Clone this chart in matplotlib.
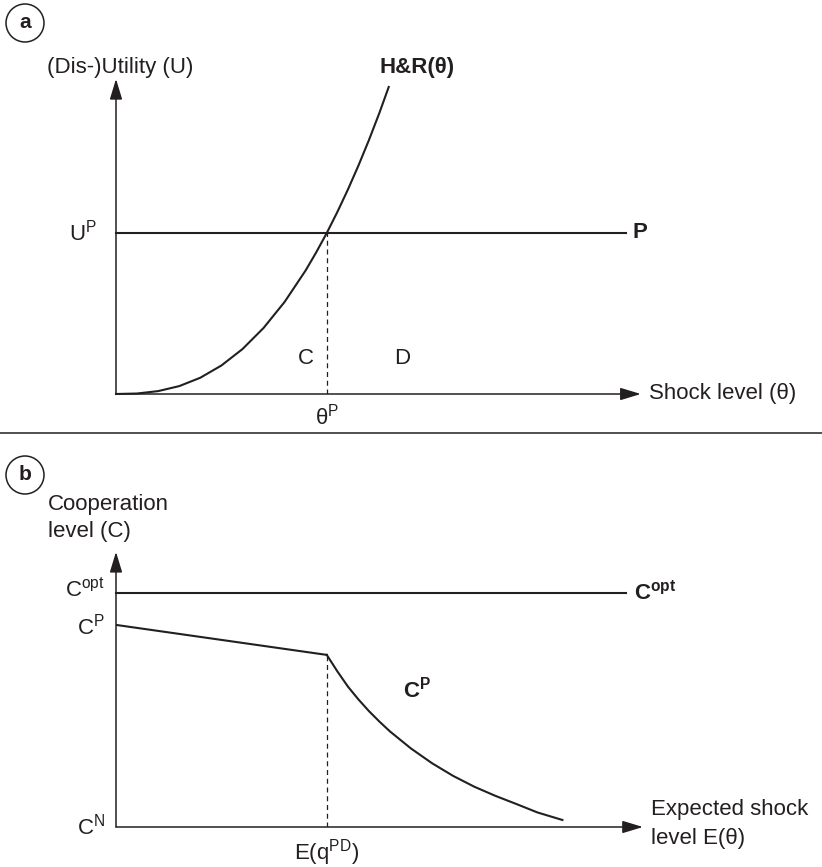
import matplotlib
matplotlib.use("Agg")
import matplotlib.pyplot as plt
from matplotlib.patches import Ellipse
from matplotlib.lines import Line2D

plt.rcParams['font.family'] = ['Liberation Sans', 'DejaVu Sans']
plt.rcParams['mathtext.fontset'] = 'custom'
plt.rcParams['mathtext.rm'] = 'Liberation Sans'
plt.rcParams['mathtext.it'] = 'Liberation Sans'
plt.rcParams['mathtext.bf'] = 'Liberation Sans:bold'

INK = '#231f20'

# panel a: H&R(theta) curve (theta^P = 1, U^P = 1)
theta = [0.0, 0.1, 0.2, 0.3, 0.4, 0.5, 0.6, 0.7, 0.8, 0.9, 0.95, 1.0,
         1.05, 1.1, 1.15, 1.2, 1.25, 1.294]
hr = [0.0, 0.003, 0.018, 0.049, 0.101, 0.177, 0.279, 0.41, 0.572, 0.768, 0.88, 1.0,
      1.13, 1.269, 1.418, 1.577, 1.747, 1.907]
theta_p = 1.0
u_p = 1.0
p_end = 2.42
theta_max = 2.49
u_max = 1.957

# panel b: cooperation level (E(q^PD) = 1, C^opt = 1)
c_opt = 1.0
c_p0 = 0.863
e_pd = 1.0
c_kink = 0.735
ecurve_x = [1.0, 1.05, 1.1, 1.15, 1.2, 1.25, 1.3, 1.4, 1.5, 1.6, 1.7, 1.8, 1.9, 2.0, 2.118]
ecurve_c = [0.735, 0.665, 0.6, 0.545, 0.495, 0.45, 0.408, 0.335, 0.272, 0.218, 0.172,
            0.133, 0.098, 0.062, 0.03]
copt_end = 2.42
e_max = 2.5
c_max = 1.175

W, H = 822, 867
fig = plt.figure(figsize=(W / 100, H / 100), dpi=100)


def arrow(ax, start, tip):
    ax.annotate('', xy=tip, xytext=start,
                arrowprops=dict(arrowstyle='-|>,head_length=1.25,head_width=0.38',
                                mutation_scale=10, lw=1.1, color=INK,
                                shrinkA=0, shrinkB=0), annotation_clip=False)


def badge(letter, cx, cy):
    fig.add_artist(Ellipse((cx / W, 1 - cy / H), 38 / W, 38 / H,
                           transform=fig.transFigure, fill=False, lw=1.1, ec=INK))
    fig.text(cx / W, 1 - cy / H, letter, ha='center', va='center',
             fontsize=15, fontweight='bold', color=INK)


# ---- panel a ----
ax1 = fig.add_axes([116 / W, 473 / H, 548 / W, 322 / H])
ax1.set_xlim(0, 2.6)
ax1.set_ylim(0, 2.0)
ax1.axis('off')
arrow(ax1, (0, 0), (0, u_max))
arrow(ax1, (0, 0), (theta_max, 0))
ax1.plot([0, p_end], [u_p, u_p], color=INK, lw=1.5, clip_on=False)
ax1.plot(theta, hr, color=INK, lw=1.5, clip_on=False)
ax1.plot([theta_p, theta_p], [0, u_p], color=INK, lw=0.9, ls=(0, (4, 3)))

ax1.text(0.02, 2.025, '(Dis-)Utility (U)', ha='center', va='center', fontsize=16, color=INK)
ax1.text(1.427, 2.025, 'H&R(θ)', ha='center', va='center', fontsize=16,
         fontweight='bold', color=INK)
ax1.text(-0.09, u_p, r'$\mathrm{U^P}$', ha='right', va='center', fontsize=16, color=INK)
ax1.text(2.45, u_p, 'P', ha='left', va='center', fontsize=16, fontweight='bold', color=INK)
ax1.text(theta_p, -0.143, r'$\mathrm{θ^P}$', ha='center', va='center', fontsize=16, color=INK)
ax1.text(2.53, 0, 'Shock level (θ)', ha='left', va='center', fontsize=16, color=INK)
ax1.text(0.9, 0.22, 'C', ha='center', va='center', fontsize=16, color=INK)
ax1.text(1.36, 0.22, 'D', ha='center', va='center', fontsize=16, color=INK)

# separator and badges
fig.add_artist(Line2D([0, 1], [1 - 433 / H] * 2, transform=fig.transFigure,
                      color=INK, lw=1.1))
badge('a', 25, 23)
badge('b', 25, 475)

# ---- panel b ----
ax2 = fig.add_axes([116 / W, 40 / H, 548 / W, 281 / H])
ax2.set_xlim(0, 2.6)
ax2.set_ylim(0, 1.2)
ax2.axis('off')
arrow(ax2, (0, 0), (0, c_max))
arrow(ax2, (0, 0), (e_max, 0))
ax2.plot([0, copt_end], [c_opt, c_opt], color=INK, lw=1.5, clip_on=False)
ax2.plot([0, e_pd], [c_p0, c_kink], color=INK, lw=1.5)
ax2.plot(ecurve_x, ecurve_c, color=INK, lw=1.5)
ax2.plot([e_pd, e_pd], [0, c_kink], color=INK, lw=0.9, ls=(0, (4, 3)))

ax2.text(-0.322, 1.376, 'Cooperation', ha='left', va='center', fontsize=16, color=INK)
ax2.text(-0.322, 1.261, 'level (C)', ha='left', va='center', fontsize=16, color=INK)
ax2.text(-0.052, 1.013, r'$\mathrm{C^{opt}}$', ha='right', va='center', fontsize=16, color=INK)
ax2.text(-0.052, 0.855, r'$\mathrm{C^P}$', ha='right', va='center', fontsize=16, color=INK)
ax2.text(-0.052, 0.0, r'$\mathrm{C^N}$', ha='right', va='center', fontsize=16, color=INK)
ax2.text(e_pd, -0.107, r'$\mathrm{E(q^{PD})}$', ha='center', va='center', fontsize=16, color=INK)
ax2.text(2.54, 0.073, 'Expected shock', ha='left', va='center', fontsize=16, color=INK)
ax2.text(2.54, -0.047, 'level E(θ)', ha='left', va='center', fontsize=16, color=INK)
ax2.text(2.46, c_opt, r'$\mathbf{C^{opt}}$', ha='left', va='center', fontsize=16, color=INK)
ax2.text(1.36, 0.585, r'$\mathbf{C^P}$', ha='left', va='center', fontsize=16, color=INK)

fig.savefig('out.png', dpi=100)
